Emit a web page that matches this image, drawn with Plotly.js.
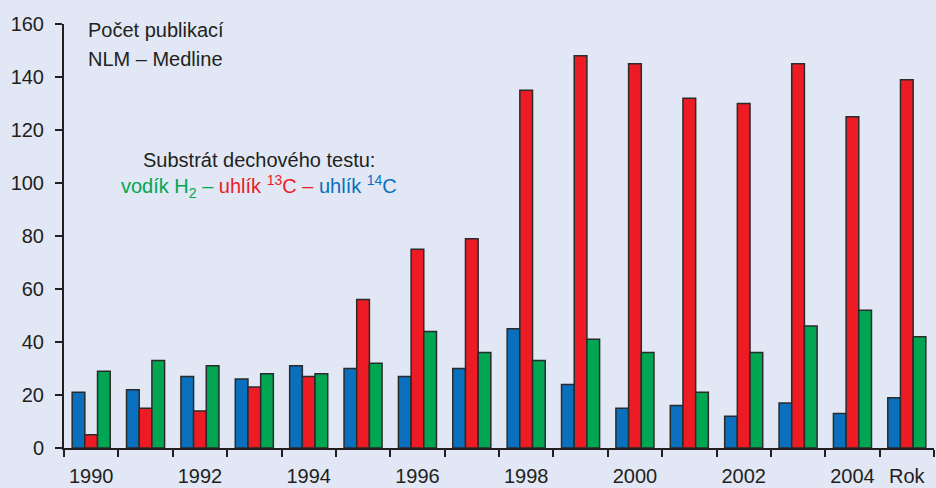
<!DOCTYPE html>
<html>
<head>
<meta charset="utf-8">
<script src="https://cdn.plot.ly/plotly-3.0.1.min.js"></script>
<style>
html,body{margin:0;padding:0;background:#e1e7f5;}
#chart{width:936px;height:488px;}
</style>
</head>
<body>
<div id="chart"></div>
<script>
const years = [1990,1991,1992,1993,1994,1995,1996,1997,1998,1999,2000,2001,2002,2003,2004,2005];
const carbon14 = [21,22,27,26,31,30,27,30,45,24,15,16,12,17,13,19];
const carbon13 = [5,15,14,23,27,56,75,79,135,148,145,132,130,145,125,139];
const hydrogen = [29,33,31,28,28,32,44,36,33,41,36,21,36,46,52,42];
const tickYears = [1990,1992,1994,1996,1998,2000,2002,2004,2005];
const tickLabels = ['1990','1992','1994','1996','1998','2000','2002','2004','Rok'];

const FONT = '"Liberation Sans", Arial, sans-serif';
const line = {color:'#2b2b2b', width:1.5};
const traces = [
  {type:'bar', x:years, y:carbon14, name:'uhlík 14C', marker:{color:'#0a6fbd', line:line}},
  {type:'bar', x:years, y:carbon13, name:'uhlík 13C', marker:{color:'#ed1c24', line:line}},
  {type:'bar', x:years, y:hydrogen, name:'vodík H2', marker:{color:'#00a651', line:line}}
];
const layout = {
  width:936, height:488,
  margin:{l:64, r:2, t:24, b:40},
  paper_bgcolor:'#e1e7f5', plot_bgcolor:'#e1e7f5',
  showlegend:false,
  barmode:'group', bargap:0.3, bargroupgap:0,
  font:{family:FONT, size:20, color:'#231f20'},
  xaxis:{
    range:[1989.5,2005.5], showgrid:false, zeroline:false,
    showline:true, linecolor:'#231f20', linewidth:2,
    tickmode:'array', tickvals:tickYears, ticktext:tickLabels,
    ticks:'outside', ticklen:9, tickcolor:'rgba(0,0,0,0)',
    tickfont:{family:FONT, size:20, color:'#231f20'},
    minor:{tick0:1989.5, dtick:1, ticks:'outside', ticklen:7, tickcolor:'#231f20', tickwidth:2, showgrid:false}
  },
  yaxis:{
    range:[0,160], dtick:20, showgrid:false, zeroline:false,
    showline:true, linecolor:'#231f20', linewidth:2,
    ticks:'outside', ticklen:7, tickwidth:2, tickcolor:'#231f20',
    ticklabelstandoff:7,
    tickfont:{family:FONT, size:20, color:'#231f20'}
  },
  annotations:[
    {xref:'paper', yref:'paper', x:0.025, y:0.986, xanchor:'left', yanchor:'middle',
     text:'Počet publikací', showarrow:false, font:{family:FONT, size:20, color:'#231f20'}},
    {xref:'paper', yref:'paper', x:0.025, y:0.917, xanchor:'left', yanchor:'middle',
     text:'NLM – Medline', showarrow:false, font:{family:FONT, size:20, color:'#231f20'}},
    {xref:'paper', yref:'paper', x:0.224, y:0.679, xanchor:'center', yanchor:'middle',
     text:'Substrát dechového testu:', showarrow:false, font:{family:FONT, size:20, color:'#231f20'}},
    {xref:'paper', yref:'paper', x:0.224, y:0.616, xanchor:'center', yanchor:'middle',
     text:'<span style="color:#00a651">vodík H<sub>2</sub> – </span><span style="color:#ed1c24">uhlík <sup>13</sup>C – </span><span style="color:#0a6fbd">uhlík <sup>14</sup>C</span>',
     showarrow:false, font:{family:FONT, size:20, color:'#231f20'}}
  ]
};
Plotly.newPlot('chart', traces, layout, {displayModeBar:false, staticPlot:true});
</script>
</body>
</html>
